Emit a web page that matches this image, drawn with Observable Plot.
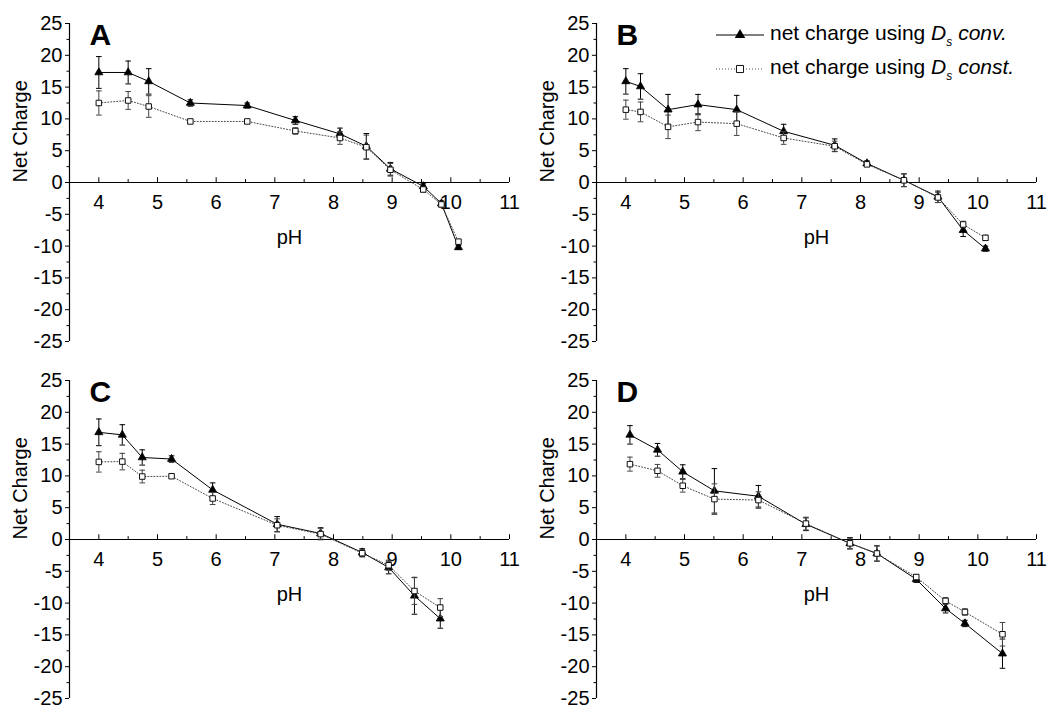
<!DOCTYPE html>
<html>
<head>
<meta charset="utf-8">
<script src="https://cdn.jsdelivr.net/npm/d3@7"></script>
<script src="https://cdn.jsdelivr.net/npm/@observablehq/plot@0.6"></script>
<style>
  body { margin: 0; background: #fff; }
  #fig { position: relative; width: 1054px; height: 708px; overflow: hidden; background: #fff;
         font-family: "Liberation Sans", Arial, sans-serif; }
  .panel { position: absolute; }
  #legend { position: absolute; left: 716px; top: 18px; font-size: 21px; color: #000; line-height: 1; }
  #legend .row { display: flex; align-items: center; height: 34px; white-space: nowrap; }
  #legend svg { margin-right: 6px; }
  #legend sub { font-size: 12px; font-style: italic; vertical-align: -6px; }
</style>
</head>
<body>
<div id="fig"></div>
<script>
// ---------- data ----------
const panelLabels = ["A", "B", "C", "D"];
const xTicks = [4, 5, 6, 7, 8, 9, 10, 11];
const xMinorTicks = [3.5, 4.5, 5.5, 6.5, 7.5, 8.5, 9.5, 10.5];
const yTicks = [-25, -20, -15, -10, -5, 0, 5, 10, 15, 20, 25];
const yMinorTicks = [-22.5, -17.5, -12.5, -7.5, -2.5, 2.5, 7.5, 12.5, 17.5, 22.5];
const xDomain = [3.5, 11];
const yDomain = [-25, 25];

// Panel A
const phA = [4.0, 4.5, 4.85, 5.56, 6.53, 7.35, 8.11, 8.56, 8.97, 9.53, 9.84, 10.13];
const convA = [17.3, 17.3, 15.9, 12.5, 12.1, 9.75, 7.65, 5.7, 2.15, -0.6, -3.3, -10.2];
const convErrA = [2.5, 1.8, 2.0, 0.5, 0.4, 0.6, 0.9, 2.0, 1.0, 0.4, 0.4, 0.3];
const constA = [12.5, 12.9, 11.95, 9.6, 9.6, 8.1, 7.0, 5.55, 2.0, -1.1, -3.45, -9.3];
const constErrA = [1.9, 1.4, 1.7, 0.3, 0.3, 0.5, 1.0, 1.9, 1.0, 0.4, 0.4, 0.3];

// Panel B
const phB = [4.0, 4.25, 4.72, 5.23, 5.89, 6.69, 7.56, 8.11, 8.74, 9.32, 9.75, 10.13];
const convB = [15.9, 15.1, 11.45, 12.25, 11.45, 8.05, 5.85, 3.0, 0.35, -2.25, -7.5, -10.4];
const convErrB = [2.0, 2.0, 2.4, 1.6, 2.25, 1.1, 1.0, 0.4, 1.0, 0.9, 1.0, 0.4];
const constB = [11.45, 11.1, 8.75, 9.5, 9.25, 7.0, 5.7, 2.85, 0.35, -2.35, -6.6, -8.7];
const constErrB = [1.5, 1.55, 1.85, 1.35, 1.85, 1.0, 0.8, 0.3, 1.0, 0.8, 0.5, 0.4];

// Panel C
const phC = [4.0, 4.4, 4.74, 5.24, 5.94, 7.04, 7.78, 8.49, 8.94, 9.38, 9.82];
const convC = [16.85, 16.45, 12.9, 12.65, 7.8, 2.4, 0.95, -2.05, -4.4, -8.85, -12.45];
const convErrC = [2.1, 1.6, 1.2, 0.5, 1.1, 1.2, 0.9, 0.6, 1.0, 2.9, 1.5];
const constC = [12.2, 12.25, 9.9, 9.95, 6.45, 2.25, 0.85, -2.15, -4.05, -8.1, -10.7];
const constErrC = [1.6, 1.3, 1.0, 0.3, 0.95, 1.0, 0.9, 0.6, 0.8, 2.1, 1.4];

// Panel D
const phD = [4.07, 4.54, 4.97, 5.51, 6.26, 7.07, 7.82, 8.28, 8.95, 9.45, 9.78, 10.42];
const convD = [16.45, 14.1, 10.65, 7.65, 6.8, 2.4, -0.6, -2.2, -6.25, -10.85, -13.2, -17.95];
const convErrD = [1.45, 1.0, 1.1, 3.5, 1.7, 1.0, 0.9, 1.2, 0.5, 0.7, 0.5, 2.3];
const constD = [11.85, 10.8, 8.45, 6.35, 6.2, 2.5, -0.6, -2.2, -5.9, -9.65, -11.4, -14.9];
const constErrD = [1.1, 1.0, 1.0, 2.4, 1.3, 1.0, 0.8, 1.2, 0.4, 0.5, 0.5, 1.85];

const seriesNames = ["net charge using Ds conv.", "net charge using Ds const."];

// ---------- build ----------
const panels = [
  {label: panelLabels[0], ph: phA, conv: convA, convErr: convErrA, cst: constA, cstErr: constErrA, left: 0, top: 0},
  {label: panelLabels[1], ph: phB, conv: convB, convErr: convErrB, cst: constB, cstErr: constErrB, left: 527, top: 0},
  {label: panelLabels[2], ph: phC, conv: convC, convErr: convErrC, cst: constC, cstErr: constErrC, left: 0, top: 357},
  {label: panelLabels[3], ph: phD, conv: convD, convErr: convErrD, cst: constD, cstErr: constErrD, left: 527, top: 357}
];

const capSymbol = {
  draw(context, size) {
    const r = Math.sqrt(size / Math.PI);
    context.moveTo(-r, 0);
    context.lineTo(r, 0);
  }
};

const FONT = '"Liberation Sans", Arial, sans-serif';
const FS = 20;
const fig = document.getElementById("fig");

for (const p of panels) {
  const conv = p.ph.map((x, i) => ({x, y: p.conv[i], e: p.convErr[i]}));
  const cst = p.ph.map((x, i) => ({x, y: p.cst[i], e: p.cstErr[i]}));
  const errMarks = (data, color) => [
    Plot.ruleX(data, {x: "x", y1: d => d.y - d.e, y2: d => d.y + d.e, stroke: color, strokeWidth: 1}),
    Plot.dot(data, {x: "x", y: d => d.y - d.e, symbol: capSymbol, r: 2.8, stroke: color, fill: "none", strokeWidth: 1}),
    Plot.dot(data, {x: "x", y: d => d.y + d.e, symbol: capSymbol, r: 2.8, stroke: color, fill: "none", strokeWidth: 1})
  ];
  const chart = Plot.plot({
    width: 527,
    height: 350,
    marginLeft: 69,
    marginRight: 18,
    marginTop: 23,
    marginBottom: 9,
    x: {domain: xDomain, axis: null},
    y: {domain: yDomain, label: null},
    style: {fontFamily: FONT, fontSize: FS + "px", background: "transparent", overflow: "visible", color: "#000"},
    marks: [
      // y axis line, ticks and labels
      Plot.ruleX([xDomain[0]], {stroke: "#000", strokeWidth: 1.2}),
      Plot.axisY({ticks: yTicks, tickSize: 4, tickPadding: 3, tickFormat: d => String(d), fontSize: FS, label: null, stroke: "#000"}),
      Plot.axisY({ticks: yMinorTicks, tickSize: 2.5, tickFormat: () => "", label: null, stroke: "#000"}),
      // x axis at y = 0
      Plot.ruleY([0], {x1: xDomain[0], x2: xDomain[1], stroke: "#000", strokeWidth: 1.2}),
      Plot.ruleX(xTicks, {x: d => d, y1: 0, y2: 0.75, stroke: "#000"}),
      Plot.ruleX(xMinorTicks, {x: d => d, y1: 0, y2: 0.45, stroke: "#000"}),
      Plot.text(xTicks, {x: d => d, y: 0, dy: 20, text: d => String(d), fontSize: FS, fill: "#000"}),
      // axis titles
      Plot.text(["pH"], {frameAnchor: "middle", dy: 55, text: d => d, fontSize: FS, fill: "#000"}),
      Plot.text(["Net Charge"], {frameAnchor: "left", dx: -49, rotate: -90, text: d => d, fontSize: FS, fill: "#000"}),
      // panel letter
      Plot.text([p.label], {frameAnchor: "top-left", dx: 20, dy: 0, lineAnchor: "top", textAnchor: "start",
                            text: d => d, fontSize: 30, fontWeight: "bold", fill: "#000"}),
      // series: Ds conv. (triangles, solid)
      ...errMarks(conv, "#000"),
      Plot.line(conv, {x: "x", y: "y", stroke: "#000", strokeWidth: 1}),
      Plot.dot(conv, {x: "x", y: "y", symbol: "triangle", r: 3, fill: "#000", stroke: "#000", strokeWidth: 0.8}),
      // series: Ds const. (open squares, dotted)
      ...errMarks(cst, "#444"),
      Plot.line(cst, {x: "x", y: "y", stroke: "#444", strokeWidth: 1, strokeDasharray: "1,2"}),
      Plot.dot(cst, {x: "x", y: "y", symbol: "square", r: 3.1, fill: "#fff", stroke: "#111", strokeWidth: 1})
    ]
  });
  chart.classList.add("panel");
  chart.style.left = p.left + "px";
  chart.style.top = p.top + "px";
  fig.appendChild(chart);
}

// legend (inside panel B)
const legend = document.createElement("div");
legend.id = "legend";
const sym = (kind) => {
  const ns = "http://www.w3.org/2000/svg";
  const s = document.createElementNS(ns, "svg");
  s.setAttribute("width", 48); s.setAttribute("height", 20);
  const l = document.createElementNS(ns, "line");
  l.setAttribute("x1", 0); l.setAttribute("x2", 48); l.setAttribute("y1", 10); l.setAttribute("y2", 10);
  if (kind === 0) {
    l.setAttribute("stroke", "#000");
    s.appendChild(l);
    const t = document.createElementNS(ns, "path");
    t.setAttribute("d", d3.symbol(d3.symbolTriangle, 48)());
    t.setAttribute("transform", "translate(24,10)");
    t.setAttribute("fill", "#000");
    s.appendChild(t);
  } else {
    l.setAttribute("stroke", "#555"); l.setAttribute("stroke-dasharray", "1,2");
    s.appendChild(l);
    const q = document.createElementNS(ns, "path");
    q.setAttribute("d", d3.symbol(d3.symbolSquare, 50)());
    q.setAttribute("transform", "translate(24,10)");
    q.setAttribute("fill", "#fff"); q.setAttribute("stroke", "#111");
    s.appendChild(q);
  }
  return s;
};
const tails = ["conv.", "const."];
seriesNames.forEach((name, i) => {
  const row = document.createElement("div");
  row.className = "row";
  row.appendChild(sym(i));
  const span = document.createElement("span");
  span.innerHTML = `net charge using <i>D</i><sub>s</sub> <i>${tails[i]}</i>`;
  row.appendChild(span);
  legend.appendChild(row);
});
fig.appendChild(legend);
</script>
</body>
</html>
